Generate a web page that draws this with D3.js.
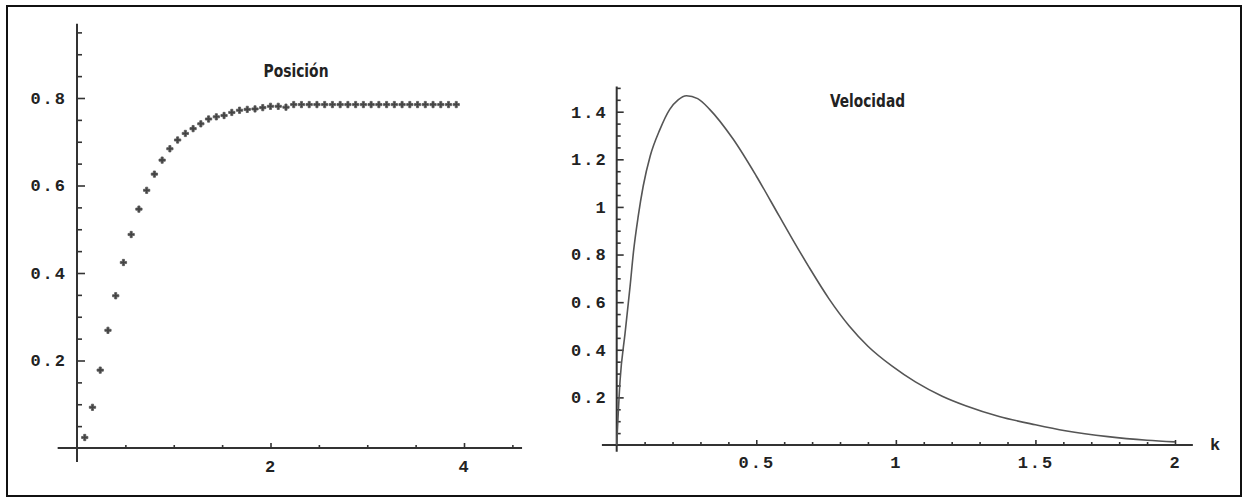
<!DOCTYPE html>
<html>
<head>
<meta charset="utf-8">
<script src="https://cdn.jsdelivr.net/npm/d3@7"></script>
<style>
  html, body { margin: 0; padding: 0; background: #fff; }
  svg { display: block; }
</style>
</head>
<body>
<svg id="chart" width="1248" height="501"></svg>
<script>
// Posición: puntos (t, posición)
const posT = [0.08, 0.16, 0.24, 0.32, 0.40, 0.48, 0.56, 0.64, 0.72, 0.80,
  0.88, 0.96, 1.04, 1.12, 1.20, 1.28, 1.36, 1.44, 1.52, 1.60,
  1.68, 1.76, 1.84, 1.92, 2.00, 2.08, 2.16, 2.24, 2.32, 2.40,
  2.48, 2.56, 2.64, 2.72, 2.80, 2.88, 2.96, 3.04, 3.12, 3.20,
  3.28, 3.36, 3.44, 3.52, 3.60, 3.68, 3.76, 3.84, 3.92]
const posY = [0.024, 0.093, 0.178, 0.269, 0.348, 0.424, 0.488, 0.546, 0.589, 0.626,
  0.658, 0.684, 0.704, 0.719, 0.730, 0.741, 0.752, 0.757, 0.760, 0.767,
  0.772, 0.774, 0.775, 0.778, 0.781, 0.781, 0.779, 0.785, 0.785, 0.785,
  0.785, 0.785, 0.785, 0.785, 0.785, 0.785, 0.785, 0.785, 0.785, 0.785,
  0.785, 0.785, 0.785, 0.785, 0.785, 0.785, 0.785, 0.785, 0.785]

// Velocidad: curva (k, velocidad)
const velK = [0, 0.012, 0.03, 0.048, 0.06, 0.077, 0.095, 0.12, 0.155, 0.19,
  0.22, 0.25, 0.29, 0.333, 0.417, 0.5, 0.583, 0.631, 0.69, 0.76,
  0.833, 0.9, 0.988, 1.07, 1.166, 1.25, 1.37, 1.5, 1.607, 1.76, 1.9, 2.0]
const velY = [0, 0.27, 0.47, 0.667, 0.81, 0.96, 1.088, 1.214, 1.326, 1.41,
  1.45, 1.467, 1.455, 1.41, 1.285, 1.13, 0.96, 0.862, 0.745, 0.615,
  0.5, 0.415, 0.33, 0.265, 0.205, 0.165, 0.12, 0.085, 0.06, 0.035, 0.02, 0.013]

// ticks
const posXMajor = [2, 4]
const posXMinor = [0.5, 1, 1.5, 2.5, 3, 3.5, 4.5]
const posYMajor = [0.2, 0.4, 0.6, 0.8]
const posYMinor = [0.05, 0.1, 0.15, 0.25, 0.3, 0.35, 0.45, 0.5, 0.55, 0.65, 0.7, 0.75, 0.85, 0.9, 0.95]
const velXMajor = [0.5, 1, 1.5, 2]
const velXMinor = [0.1, 0.2, 0.3, 0.4, 0.6, 0.7, 0.8, 0.9, 1.1, 1.2, 1.3, 1.4, 1.6, 1.7, 1.8, 1.9]
const velYMajor = [0.2, 0.4, 0.6, 0.8, 1, 1.2, 1.4]
const velYMinor = [0.05, 0.1, 0.15, 0.25, 0.3, 0.35, 0.45, 0.5, 0.55, 0.65, 0.7, 0.75,
  0.85, 0.9, 0.95, 1.05, 1.1, 1.15, 1.25, 1.3, 1.35, 1.45, 1.5]

const axisColor = '#333'
const inkColor = '#222'
const svg = d3.select('#chart')

// marco exterior
svg.append('rect')
  .attr('x', 7).attr('y', 6)
  .attr('width', 1234).attr('height', 490)
  .attr('fill', 'none').attr('stroke', '#111').attr('stroke-width', 2)

// ejes estilo Mathematica: ticks hacia dentro, etiquetas fuera
function drawAxes(g, x, y, o) {
  // línea eje x
  g.append('line')
    .attr('x1', x(o.xExt[0])).attr('x2', x(o.xExt[1]))
    .attr('y1', y(0)).attr('y2', y(0))
    .attr('stroke', axisColor).attr('stroke-width', 2)
  // línea eje y
  g.append('line')
    .attr('x1', x(0)).attr('x2', x(0))
    .attr('y1', y(o.yExt[0])).attr('y2', y(o.yExt[1]))
    .attr('stroke', axisColor).attr('stroke-width', 2)

  const ax = g.append('g').attr('transform', `translate(0,${y(0)})`)
  ax.call(d3.axisBottom(x).tickValues(o.xMinor).tickSize(-o.xMinorLen).tickFormat(''))
  ax.append('g').call(d3.axisBottom(x).tickValues(o.xMajor).tickSize(-o.xMajorLen).tickPadding(o.xPad).tickFormat(d3.format('')))

  const ay = g.append('g').attr('transform', `translate(${x(0)},0)`)
  ay.call(d3.axisLeft(y).tickValues(o.yMinor).tickSize(-o.yMinorLen).tickFormat(''))
  ay.append('g').call(d3.axisLeft(y).tickValues(o.yMajor).tickSize(-o.yMajorLen).tickPadding(o.yPad).tickFormat(d3.format('')))

  g.selectAll('.domain').remove()
  g.selectAll('.tick line').attr('stroke', axisColor).attr('stroke-width', 1.6)
  g.selectAll('.tick text')
    .attr('font-family', "'Liberation Mono', 'DejaVu Sans Mono', monospace")
    .attr('font-size', '17px')
    .attr('font-weight', 'bold')
    .attr('fill', inkColor)
    .style('letter-spacing', '2px')
}

// ---- Posición ----
const x1 = d3.scaleLinear().domain([0, 4]).range([77, 464])
const y1 = d3.scaleLinear().domain([0, 0.8]).range([448, 98])
const g1 = svg.append('g')
drawAxes(g1, x1, y1, {
  xExt: [-0.2, 4.6], yExt: [-0.032, 0.97],
  xMajor: posXMajor, xMinor: posXMinor, yMajor: posYMajor, yMinor: posYMinor,
  xMajorLen: 5, xMinorLen: 3, yMajorLen: 8, yMinorLen: 5, xPad: 12, yPad: 10
})

g1.selectAll('.pt')
  .data(d3.zip(posT, posY))
  .join('path')
  .attr('class', 'pt')
  .attr('d', d3.symbol().type(d3.symbolCross).size(22))
  .attr('transform', (d) => `translate(${x1(d[0])},${y1(d[1])})`)
  .attr('fill', '#444')
  .attr('stroke', '#555')
  .attr('stroke-width', 0.8)

g1.append('text')
  .text('Posición')
  .attr('x', 296).attr('y', 77)
  .attr('text-anchor', 'middle')
  .attr('font-family', "'DejaVu Sans Condensed', 'DejaVu Sans', sans-serif")
  .attr('font-weight', 'bold')
  .attr('font-size', '17px')
  .attr('textLength', 65)
  .attr('lengthAdjust', 'spacingAndGlyphs')
  .attr('fill', inkColor)

// ---- Velocidad ----
const x2 = d3.scaleLinear().domain([0, 2]).range([616.7, 1175])
const y2 = d3.scaleLinear().domain([0, 1.4]).range([445, 111.7])
const g2 = svg.append('g')
drawAxes(g2, x2, y2, {
  xExt: [-0.053, 2.064], yExt: [-0.028, 1.506],
  xMajor: velXMajor, xMinor: velXMinor, yMajor: velYMajor, yMinor: velYMinor,
  xMajorLen: 5, xMinorLen: 3, yMajorLen: 7, yMinorLen: 4, xPad: 11, yPad: 9
})

const line = d3.line()
  .x((d) => x2(d[0]))
  .y((d) => y2(d[1]))
  .curve(d3.curveMonotoneX)

g2.append('path')
  .datum(d3.zip(velK, velY))
  .attr('d', line)
  .attr('fill', 'none')
  .attr('stroke', '#555')
  .attr('stroke-width', 1.6)

g2.append('text')
  .text('Velocidad')
  .attr('x', 830).attr('y', 107)
  .attr('font-family', "'DejaVu Sans Condensed', 'DejaVu Sans', sans-serif")
  .attr('font-weight', 'bold')
  .attr('font-size', '17px')
  .attr('textLength', 75)
  .attr('lengthAdjust', 'spacingAndGlyphs')
  .attr('fill', inkColor)

g2.append('text')
  .text('k')
  .attr('x', 1215).attr('y', y2(0))
  .attr('dy', '0.32em')
  .attr('text-anchor', 'middle')
  .attr('font-family', "'Liberation Mono', 'DejaVu Sans Mono', monospace")
  .attr('font-weight', 'bold')
  .attr('font-size', '17px')
  .attr('fill', inkColor)
</script>
</body>
</html>
